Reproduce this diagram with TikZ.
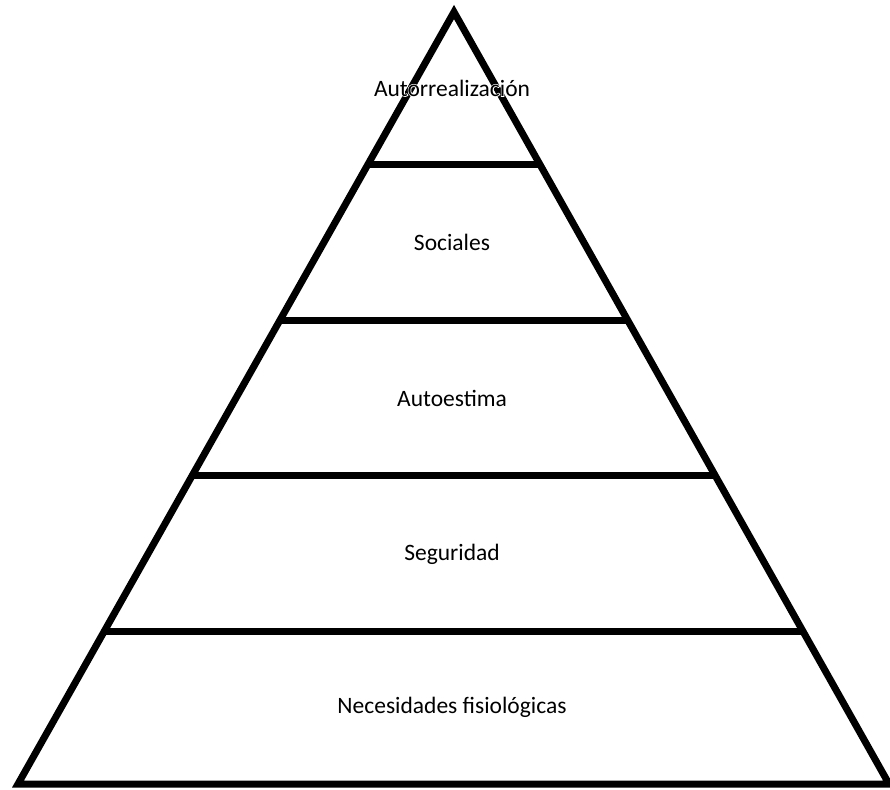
\documentclass[tikz,border=0pt]{standalone}
\usepackage{fontspec}
\setmainfont{Carlito}
\usetikzlibrary{calc}
% label text with a white glow underneath, set as one box
\newcommand{\glowtext}[1]{\rlap{\color{white}\addfontfeature{FakeBold=6}#1}#1}
\begin{document}
\begin{tikzpicture}[x=1pt,y=-1pt,
  edge/.style={line width=7pt,line join=miter,line cap=butt},
  levellabel/.style={font=\fontsize{23.5}{28}\selectfont,inner sep=0pt,text=black}]
  \useasboundingbox (0,0) rectangle (890,789);
  % pyramid outline
  \coordinate (apex) at (454,12);
  \coordinate (bl) at (18,784);
  \coordinate (br) at (889,784);
  \draw[edge] (apex) -- (bl) -- (br) -- cycle;
  % level dividers
  \foreach \t [count=\i] in {0.197,0.399,0.6,0.802}{
    \coordinate (d\i a) at ($(apex)!\t!(bl)$);
    \coordinate (d\i b) at ($(apex)!\t!(br)$);
    \draw[edge] (d\i a) -- (d\i b);
  }
  % level labels
  \foreach \name/\y/\txt in {top/88/Autorrealización,
                             soc/242/Sociales,
                             est/398/Autoestima,
                             seg/554/Seguridad,
                             fis/707/Necesidades fisiológicas}{
    \node[levellabel] (\name) at (452,\y) {\glowtext{\txt}};
  }
\end{tikzpicture}
\end{document}
